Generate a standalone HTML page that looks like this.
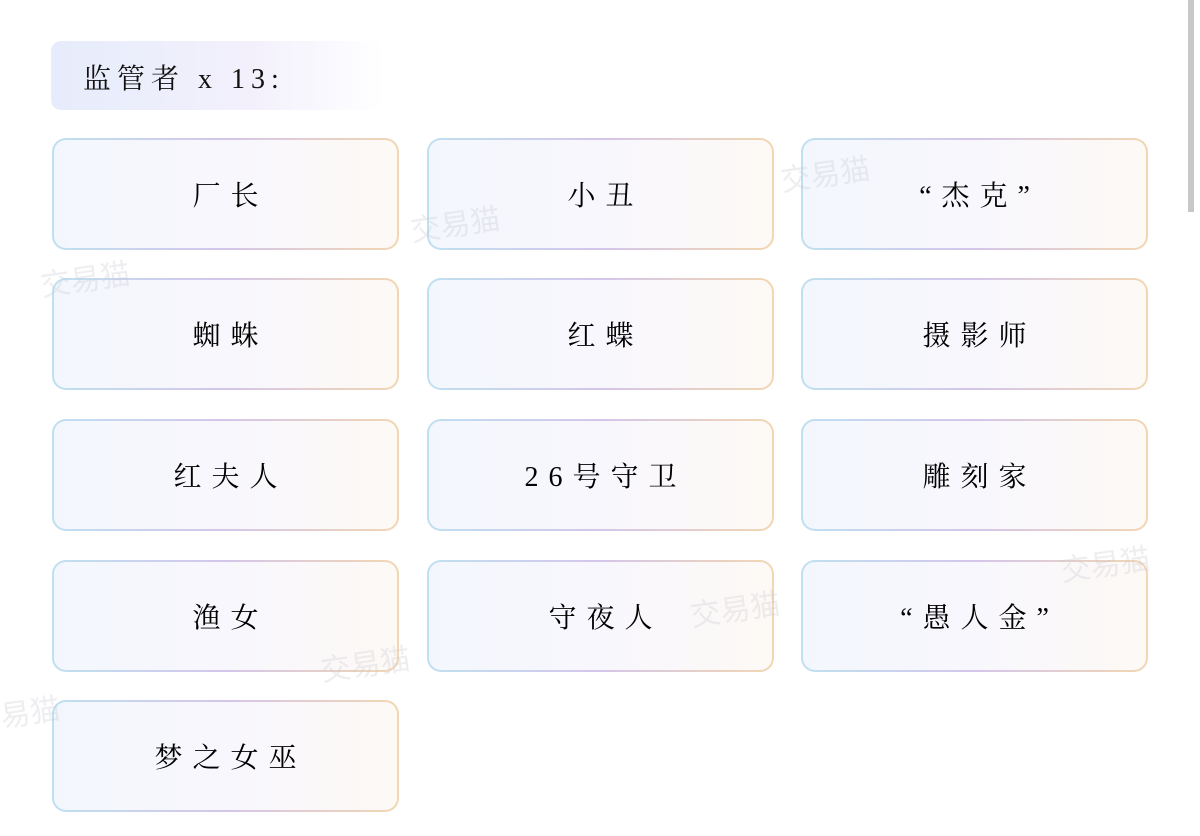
<!DOCTYPE html>
<html><head><meta charset="utf-8"><style>
body{margin:0;width:1200px;height:836px;background:#fff;position:relative;overflow:hidden;font-family:"Liberation Serif","Noto Serif CJK SC",serif;}
.hd{position:absolute;left:51px;top:41px;width:334px;height:69px;border-radius:10px;background:linear-gradient(90deg,#e6ecfb,#f3f0fc 60%,#fff);}
.hd span{position:absolute;left:32px;top:16px;font-size:28px;color:#111;letter-spacing:6px;}
.b{position:absolute;width:347px;height:112px;box-sizing:border-box;border-radius:14px;border:2px solid transparent;padding-left:10px;
background:linear-gradient(90deg,#f3f7fd,#f8f7fd 50%,#fdf9f5) padding-box,linear-gradient(90deg,#bfe0f0,#d4c6ea 50%,#f2d6b2) border-box;
display:flex;align-items:center;justify-content:center;font-size:28px;color:#000;letter-spacing:10px;}
.sb{position:absolute;left:1188px;top:0;width:6px;height:212px;background:#c8c8c8;}
.wm{position:absolute;color:rgba(200,200,210,0.3);font-size:30px;font-family:"Noto Sans CJK SC",sans-serif;transform:rotate(-8deg);}
</style></head><body>
<div class="hd"><span>监管者 x 13:</span></div>
<div class="b" style="left:52px;top:138px">厂长</div>
<div class="b" style="left:427px;top:138px">小丑</div>
<div class="b" style="left:801px;top:138px">“杰克”</div>
<div class="b" style="left:52px;top:278px">蜘蛛</div>
<div class="b" style="left:427px;top:278px">红蝶</div>
<div class="b" style="left:801px;top:278px">摄影师</div>
<div class="b" style="left:52px;top:419px">红夫人</div>
<div class="b" style="left:427px;top:419px">26号守卫</div>
<div class="b" style="left:801px;top:419px">雕刻家</div>
<div class="b" style="left:52px;top:560px">渔女</div>
<div class="b" style="left:427px;top:560px">守夜人</div>
<div class="b" style="left:801px;top:560px">“愚人金”</div>
<div class="b" style="left:52px;top:700px">梦之女巫</div>
<div class="wm" style="left:410px;top:200px">交易猫</div>
<div class="wm" style="left:40px;top:255px">交易猫</div>
<div class="wm" style="left:780px;top:150px">交易猫</div>
<div class="wm" style="left:1060px;top:540px">交易猫</div>
<div class="wm" style="left:690px;top:585px">交易猫</div>
<div class="wm" style="left:320px;top:640px">交易猫</div>
<div class="wm" style="left:-30px;top:690px">交易猫</div>
<div class="sb"></div>
</body></html>
